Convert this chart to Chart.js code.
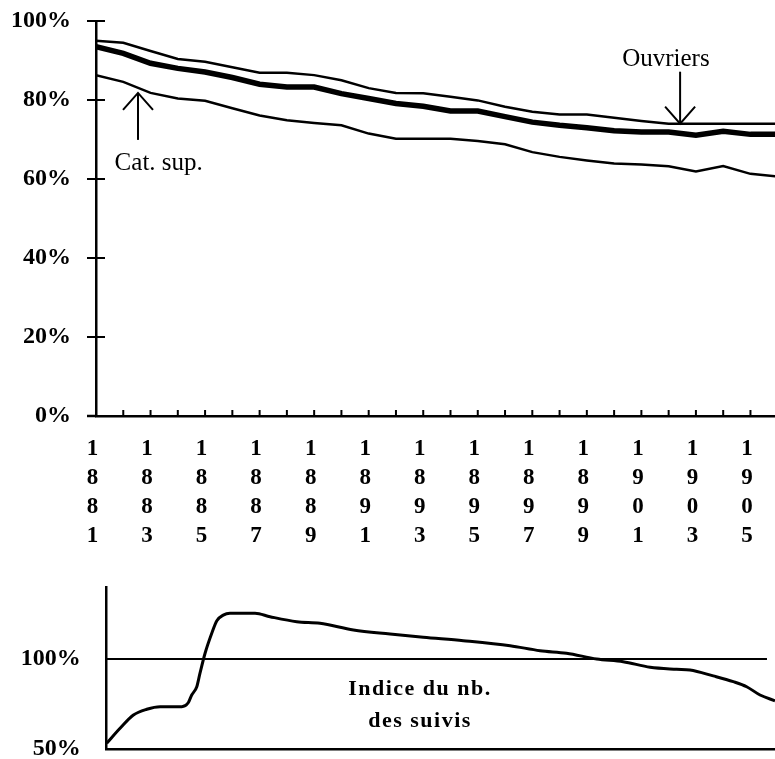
<!DOCTYPE html>
<html>
<head>
<meta charset="utf-8">
<script src="https://cdn.jsdelivr.net/npm/chart.js@4.4.0/dist/chart.umd.min.js"></script>
<style>
  html, body { margin: 0; padding: 0; background: #fff; overflow: hidden; }
  #haut { position: absolute; left: 0; top: 0; }
  #bas { position: absolute; left: 0; top: 560px; }
</style>
</head>
<body>
<canvas id="haut" width="775" height="560"></canvas>
<canvas id="bas" width="775" height="215"></canvas>
<script>
// Données du graphique du haut (part en %)
const annees = [1881, 1882, 1883, 1884, 1885, 1886, 1887, 1888, 1889, 1890, 1891, 1892, 1893,
  1894, 1895, 1896, 1897, 1898, 1899, 1900, 1901, 1902, 1903, 1904, 1905, 1906];
const ouvriers = [95.0, 94.5, 92.4, 90.4, 89.7, 88.3, 86.9, 86.9, 86.3, 85.0, 83.0, 81.8, 81.7,
  80.8, 79.9, 78.3, 77.0, 76.3, 76.3, 75.5, 74.7, 74.0, 74.0, 74.0, 74.0, 74.0];
const ensemble = [93.5, 91.8, 89.3, 88.0, 87.1, 85.7, 84.0, 83.3, 83.3, 81.6, 80.4, 79.1, 78.4,
  77.2, 77.2, 75.8, 74.4, 73.6, 73.0, 72.2, 71.9, 71.9, 71.1, 72.1, 71.3, 71.3];
const catSup = [86.3, 84.6, 81.8, 80.4, 79.8, 77.9, 76.1, 74.9, 74.2, 73.6, 71.5, 70.2, 70.2,
  70.2, 69.6, 68.8, 66.8, 65.6, 64.7, 63.9, 63.7, 63.2, 61.9, 63.3, 61.3, 60.6];
const anneesTicks = [1881, 1883, 1885, 1887, 1889, 1891, 1893, 1895, 1897, 1899, 1901, 1903, 1905];
const ticksPct = [0, 20, 40, 60, 80, 100];

// Données du graphique du bas (indice du nombre des suivis)
const indiceAnnees = [1881.00, 1881.50, 1882.00, 1882.50, 1883.00, 1883.81, 1884.05, 1884.18,
  1884.37, 1884.49, 1884.68, 1884.93, 1885.12, 1885.36, 1885.61, 1886.55, 1887.11, 1888.11,
  1888.98, 1890.23, 1891.60, 1892.84, 1894.34, 1896.09, 1897.21, 1898.20, 1899.33, 1900.32,
  1901.33, 1902.32, 1902.82, 1903.69, 1904.44, 1904.94, 1905.44, 1906.00];
const indiceValeurs = [53.2, 61.5, 68.9, 72.1, 73.5, 73.5, 75.7, 80.0, 84.6, 92.1, 103.2, 114.3,
  121.3, 124.4, 125.4, 125.4, 123.5, 120.7, 119.8, 116.1, 113.9, 112.1, 110.2, 107.4, 104.6,
  103.2, 100.0, 98.5, 95.4, 94.3, 93.9, 90.6, 87.4, 84.6, 80.0, 76.8];
const refAnnees = [1881, 1905.7];
const refValeurs = [100, 100];
const ticksIndice = [50, 100];

const serif = "'Liberation Serif', 'Times New Roman', serif";
const policeAnnees = { family: serif, size: 23, weight: 'bold', lineHeight: 1.27 };
const policePct = { family: serif, size: 24, weight: 'bold', lineHeight: 1.2 };

function points(xs, ys) {
  return xs.map((x, i) => ({ x: x, y: ys[i] }));
}

// grille invisible : sert seulement à écarter les libellés de l'axe
function grilleInvisible(longueur) {
  return { display: true, drawOnChartArea: false, drawTicks: true, tickLength: longueur, color: 'rgba(0,0,0,0)' };
}

// Flèches et libellés du graphique du haut
const notesHaut = [
  { texte: 'Ouvriers', x: 1901.9, yTexte: 88.6, xFleche: 1902.42, pointe: 74.0, sens: 'bas', long: 52 },
  { texte: 'Cat. sup.', x: 1883.3, yTexte: 62.2, xFleche: 1882.54, pointe: 81.8, sens: 'haut', long: 47 }
];

function ligne(ctx, x1, y1, x2, y2) {
  ctx.beginPath();
  ctx.moveTo(x1, y1);
  ctx.lineTo(x2, y2);
  ctx.stroke();
}

// Graduations croisées + annotations
const decorHaut = {
  id: 'decorHaut',
  afterDraw(chart) {
    const ctx = chart.ctx;
    const sx = chart.scales.x, sy = chart.scales.y;
    const { left, right, bottom } = chart.chartArea;
    ctx.save();
    ctx.strokeStyle = '#000';
    ctx.lineWidth = 2;
    annees.forEach(a => {
      const px = sx.getPixelForValue(a);
      if (px > left + 2 && px < right) ligne(ctx, px, bottom, px, bottom - 6);
    });
    ticksPct.forEach(v => {
      const py = sy.getPixelForValue(v);
      ligne(ctx, left - 9, py, left + 9, py);
    });
    ctx.lineWidth = 2.5;
    ligne(ctx, left - 9, bottom, left, bottom);

    ctx.fillStyle = '#000';
    ctx.font = '25px ' + serif;
    ctx.textAlign = 'center';
    ctx.textBaseline = 'alphabetic';
    ctx.lineWidth = 2;
    notesHaut.forEach(n => {
      ctx.fillText(n.texte, sx.getPixelForValue(n.x), sy.getPixelForValue(n.yTexte));
      const fx = sx.getPixelForValue(n.xFleche);
      const tip = sy.getPixelForValue(n.pointe);
      const d = n.sens === 'bas' ? -1 : 1;
      ligne(ctx, fx, tip, fx, tip + d * n.long);
      ctx.beginPath();
      ctx.moveTo(fx - 15, tip + d * 17);
      ctx.lineTo(fx, tip);
      ctx.lineTo(fx + 15, tip + d * 17);
      ctx.stroke();
    });
    ctx.restore();
  }
};

new Chart(document.getElementById('haut'), {
  type: 'line',
  data: {
    datasets: [
      { label: 'Ouvriers', data: points(annees, ouvriers), borderColor: '#000', borderWidth: 2.5 },
      { label: 'Ensemble', data: points(annees, ensemble), borderColor: '#000', borderWidth: 5.5 },
      { label: 'Cat. sup.', data: points(annees, catSup), borderColor: '#000', borderWidth: 2.5 }
    ]
  },
  options: {
    responsive: false,
    animation: false,
    layout: { padding: { top: 21, right: 0, left: 0, bottom: 0 } },
    elements: { point: { radius: 0 }, line: { tension: 0 } },
    plugins: { legend: { display: false }, tooltip: { enabled: false } },
    scales: {
      x: {
        type: 'linear',
        min: 1881,
        max: 1905.9,
        afterBuildTicks(s) { s.ticks = anneesTicks.map(v => ({ value: v })); },
        afterFit(s) { s.height = 560 - 416; },
        grid: grilleInvisible(18),
        border: { color: '#000', width: 2.5 },
        ticks: {
          callback: v => String(v).split(''),
          font: policeAnnees,
          color: '#000',
          padding: 0,
          labelOffset: -3.5,
          maxRotation: 0,
          autoSkip: false
        }
      },
      y: {
        min: 0,
        max: 100,
        afterBuildTicks(s) { s.ticks = ticksPct.map(v => ({ value: v })); },
        afterFit(s) { s.width = 96; },
        grid: grilleInvisible(25),
        border: { color: '#000', width: 2.5 },
        ticks: { callback: v => v + '%', font: policePct, color: '#000', padding: 0 }
      }
    }
  },
  plugins: [decorHaut]
});

// Texte du graphique du bas
const noteBas = { lignes: ['Indice du nb.', 'des suivis'], x: 1892.72, y: [80, 62.2] };

const decorBas = {
  id: 'decorBas',
  afterDraw(chart) {
    const ctx = chart.ctx;
    const sx = chart.scales.x, sy = chart.scales.y;
    ctx.save();
    ctx.fillStyle = '#000';
    ctx.font = 'bold 22px ' + serif;
    ctx.letterSpacing = '1.5px';
    ctx.textAlign = 'center';
    noteBas.lignes.forEach((t, i) => {
      ctx.fillText(t, sx.getPixelForValue(noteBas.x), sy.getPixelForValue(noteBas.y[i]));
    });
    ctx.restore();
  }
};

new Chart(document.getElementById('bas'), {
  type: 'line',
  data: {
    datasets: [
      { label: '100%', data: points(refAnnees, refValeurs), borderColor: '#000', borderWidth: 2 },
      { label: 'Indice', data: points(indiceAnnees, indiceValeurs), borderColor: '#000', borderWidth: 3,
        cubicInterpolationMode: 'monotone' }
    ]
  },
  options: {
    responsive: false,
    animation: false,
    layout: { padding: { top: 27, right: 0, left: 0, bottom: 0 } },
    elements: { point: { radius: 0 } },
    plugins: { legend: { display: false }, tooltip: { enabled: false } },
    scales: {
      x: {
        type: 'linear',
        min: 1881,
        max: 1906,
        afterFit(s) { s.height = 215 - 189; },
        grid: { display: false, drawTicks: false },
        border: { color: '#000', width: 2.5 },
        ticks: { display: false }
      },
      y: {
        min: 50,
        max: 140,
        afterBuildTicks(s) { s.ticks = ticksIndice.map(v => ({ value: v })); },
        afterFit(s) { s.width = 106.7; },
        grid: grilleInvisible(26),
        border: { color: '#000', width: 2.5 },
        ticks: { callback: v => v + '%', font: policePct, color: '#000', padding: 0 }
      }
    }
  },
  plugins: [decorBas]
});
</script>
</body>
</html>
